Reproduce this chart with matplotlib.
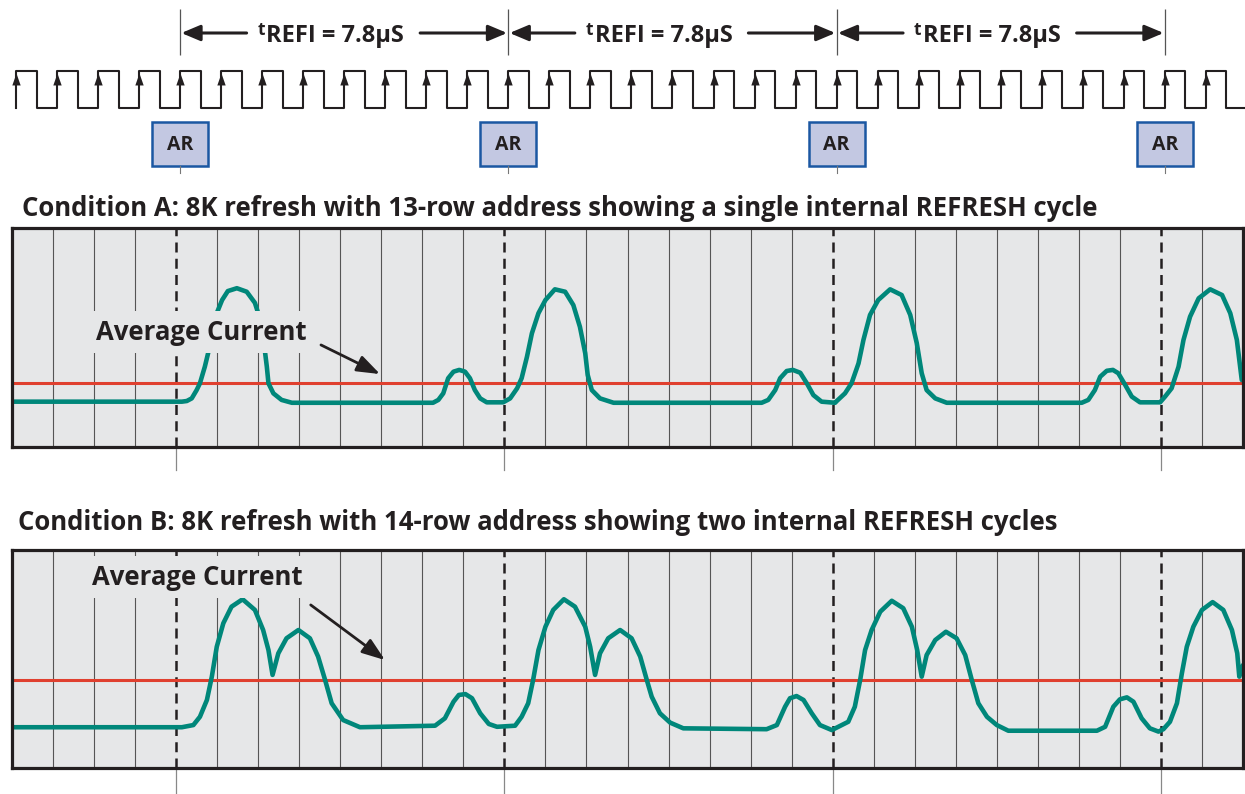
import numpy as np
import matplotlib.pyplot as plt
from matplotlib.patches import Rectangle

plt.rcParams['font.family'] = ['Open Sans', 'DejaVu Sans']
INK = '#231f20'

# clock: one rising edge per cycle, auto refresh every 8 cycles (tREFI)
clock_rising = list(range(30))
refresh_cycles = [4, 12, 20, 28]
trefi_text = 'REFI = 7.8\u03bcS'

title_a = 'Condition A: 8K refresh with 13-row address showing a single internal REFRESH cycle'
title_b = 'Condition B: 8K refresh with 14-row address showing two internal REFRESH cycles'

# supply current traces (time in clock cycles, current in % of panel height)
a_time = [0.00, 4.14, 4.26, 4.38, 4.50, 4.58, 4.70, 4.78, 4.87, 4.99, 5.12, 5.26, 5.48, 5.72, 5.92, 6.00,
          6.09, 6.17, 6.21, 6.25, 6.37, 6.57, 6.82,
          10.26, 10.39, 10.51, 10.63, 10.76, 10.90, 11.04, 11.16, 11.28, 11.41, 11.57, 11.97, 12.14, 12.31,
          12.42, 12.55, 12.67, 12.83, 13.00, 13.23, 13.48, 13.68, 13.84, 13.97, 14.03, 14.13, 14.33, 14.66,
          18.27, 18.43, 18.60, 18.72, 18.88, 19.03, 19.21, 19.37, 19.53, 19.73, 20.06, 20.10, 20.30, 20.46,
          20.63, 20.75, 20.91, 21.11, 21.40, 21.68, 21.89, 22.05, 22.17, 22.29, 22.50, 22.78,
          26.07, 26.23, 26.39, 26.52, 26.68, 26.83, 26.96, 27.13, 27.29, 27.49, 27.98, 28.10, 28.26, 28.43,
          28.55, 28.71, 28.92, 29.20, 29.49, 29.69, 29.85, 29.97]
a_curr = [20.7, 20.7, 21.0, 22.2, 26.0, 29.1, 36.7, 42.9, 52.1, 61.1, 67.1, 71.2, 72.5, 70.9, 65.8, 61.1,
          52.1, 42.8, 36.7, 29.1, 24.5, 21.5, 20.2,
          20.2, 21.5, 24.5, 31.4, 34.4, 35.2, 34.4, 31.4, 26.0, 22.2, 20.4, 20.4, 22.2, 26.8,
          31.4, 41.2, 51.9, 61.1, 67.1, 72.0, 70.9, 64.8, 54.9, 42.8, 32.9, 26.0, 22.2, 20.2,
          20.2, 21.5, 26.0, 31.4, 34.7, 35.2, 33.9, 29.1, 23.7, 20.7, 20.2, 21.0, 24.5, 29.1,
          38.2, 48.9, 60.3, 67.1, 72.0, 69.4, 60.3, 47.4, 33.7, 26.0, 22.2, 20.2,
          20.2, 21.5, 26.0, 32.1, 34.8, 35.2, 33.7, 28.3, 23.0, 20.4, 20.4, 23.0, 26.8, 36.7,
          48.9, 59.5, 67.9, 72.0, 69.4, 61.1, 48.9, 30.6]
a_avg = 29.1

b_time = [0.00, 4.14, 4.42, 4.58, 4.75, 4.87, 4.99, 5.15, 5.35, 5.62, 5.92, 6.12, 6.25, 6.35, 6.49, 6.69,
          6.98, 7.26, 7.46, 7.63, 7.79, 8.07, 8.48,
          10.31, 10.55, 10.76, 10.89, 11.05, 11.21, 11.41, 11.62, 11.82, 12.26, 12.42, 12.58, 12.70, 12.83,
          13.00, 13.19, 13.45, 13.72, 13.97, 14.09, 14.21, 14.33, 14.53, 14.82, 15.10, 15.31, 15.47, 15.59,
          15.79, 16.04, 16.36,
          18.39, 18.64, 18.84, 18.96, 19.12, 19.29, 19.49, 19.69, 19.98, 20.38, 20.54, 20.67, 20.79, 20.95,
          21.16, 21.44, 21.72, 21.93, 22.06, 22.17, 22.29, 22.50, 22.76, 23.02, 23.23, 23.39, 23.55, 23.76,
          24.00, 24.28,
          26.44, 26.64, 26.84, 27.00, 27.17, 27.33, 27.53, 27.73, 27.94, 28.06, 28.22, 28.39, 28.51, 28.63,
          28.79, 29.00, 29.26, 29.52, 29.73, 29.86, 29.91, 30.00]
b_curr = [18.7, 18.7, 19.7, 23.5, 31.2, 41.9, 55.6, 66.4, 74.0, 77.4, 72.5, 63.3, 54.1, 42.7, 52.6, 59.5,
          63.3, 59.5, 51.1, 40.4, 29.7, 22.0, 18.7,
          19.4, 22.8, 30.4, 33.5, 33.9, 32.0, 25.1, 20.2, 18.9, 19.4, 23.5, 29.7, 40.4, 54.1,
          64.8, 72.5, 77.4, 74.0, 64.8, 55.6, 42.7, 52.6, 59.5, 63.3, 59.5, 51.1, 40.4, 32.7,
          25.1, 20.8, 18.2,
          17.8, 19.7, 28.1, 32.0, 33.0, 31.2, 25.1, 19.7, 17.4, 21.2, 28.1, 40.4, 54.1, 63.3,
          71.7, 76.7, 73.3, 64.8, 54.1, 41.9, 51.8, 58.7, 62.5, 59.5, 51.8, 40.4, 29.7, 23.5,
          19.7, 17.1,
          17.1, 18.9, 28.1, 31.5, 32.4, 30.4, 22.8, 18.2, 16.7, 17.8, 21.2, 29.7, 43.4, 55.6,
          64.8, 72.5, 76.1, 72.5, 63.3, 52.6, 41.9, 47.2]
b_avg = 40.4

W, H = 1245, 794
fig = plt.figure(figsize=(W / 100, H / 100), dpi=100)


def rect(x0, y0, x1, y1):
    # pixel box (from top-left) -> figure fraction
    return [x0 / W, 1 - y1 / H, (x1 - x0) / W, (y1 - y0) / H]


xl = (-16 / 41.03, (W - 16) / 41.03)

# overlay for the top timing part: x in cycles, y in pixel rows
ax = fig.add_axes([0, 0, 1, 1])
ax.set_xlim(*xl)
ax.set_ylim(H, 0)
ax.axis('off')

# clock
ck = fig.add_axes(rect(0, 71, W, 108))
ck.set_xlim(*xl)
ck.set_ylim(0, 1)
ck.axis('off')
xs, ys = [], []
for r in clock_rising:
    xs += [r, r, r + 0.5, r + 0.5]
    ys += [0, 1, 1, 0]
xs.append(xl[1])
ys.append(0)
ck.plot(xs, ys, color=INK, lw=1.5, clip_on=False)
head = [(0, 1), (-0.7, -1), (0.7, -1), (0, 1)]
ck.plot(clock_rising, [0.78] * len(clock_rising), ls='none', marker=head, ms=8.6,
        color=INK, mec=INK, mew=0)

# tREFI dimension lines
ax.vlines(refresh_cycles, 9, 55, color='#555555', lw=0.9)
ap = dict(arrowstyle='-|>,head_length=0.95,head_width=0.4', mutation_scale=12,
          lw=2.2, color=INK, shrinkA=0, shrinkB=0)
for a, b in zip(refresh_cycles[:-1], refresh_cycles[1:]):
    ax.annotate('', xy=(a + 0.03, 33), xytext=(a + 1.62, 33), arrowprops=ap)
    ax.annotate('', xy=(b - 0.03, 33), xytext=(a + 5.85, 33), arrowprops=ap)
    ax.text(a + 2.1, 42.5, trefi_text, fontsize=17, fontweight='bold', color=INK,
            ha='left', va='baseline')
    ax.text(a + 2.06, 35, 't', fontsize=12.5, fontweight='bold', color=INK,
            ha='right', va='baseline')

# AR commands
for c in refresh_cycles:
    ax.add_patch(Rectangle((c - 0.68, 121.5), 1.365, 44.5, fc='#c3c8e2', ec='#1b57a2', lw=1.8))
    ax.text(c, 144.5, 'AR', fontsize=14, fontweight='bold', color=INK, ha='center', va='center')
    ax.plot([c, c], [166, 173], color='#777777', lw=0.8)

fig.text(22 / W, 1 - 208 / H, title_a, fontsize=18.5, fontweight='bold', color=INK, va='center')
fig.text(18 / W, 1 - 522 / H, title_b, fontsize=18.5, fontweight='bold', color=INK, va='center')

panels = [
    (rect(12, 228, 1243, 447), a_time, a_curr, a_avg, (4.61, 52.5), (7.53, 46.6), (8.97, 33.3), 10.5),
    (rect(12, 550, 1243, 768), b_time, b_curr, b_avg, (4.52, 87.6), (7.28, 74.8), (9.09, 49.5), 11.5),
]
for box, t, cur, avg, note, a0, a1, tail in panels:
    pa = fig.add_axes(box)
    pa.set_xlim(0, 30)
    pa.set_ylim(0, 100)
    pa.set_facecolor('#e6e7e8')
    pa.set_xticks([])
    pa.set_yticks([])
    for s in pa.spines.values():
        s.set_linewidth(2.3)
        s.set_color(INK)
        s.set_zorder(10)
    for c in range(1, 30):
        if c not in refresh_cycles:
            pa.axvline(c, color='#555555', lw=0.8, zorder=1)
    for c in refresh_cycles:
        pa.axvline(c, color=INK, lw=1.8, ls=(0, (4, 2.5)), zorder=2)
        pa.plot([c, c], [0, -tail], color='#888888', lw=0.9, clip_on=False)
    pa.axhline(avg, color='#e0402f', lw=2.2, zorder=3)
    pa.plot(t, cur, color='#00877a', lw=3.3, zorder=4,
            solid_joinstyle='round', solid_capstyle='round')
    pa.text(note[0], note[1], 'Average Current', fontsize=18.5, fontweight='bold', color=INK,
            ha='center', va='center', zorder=6,
            bbox=dict(boxstyle='square,pad=0.3', fc='#e6e7e8', ec='none'))
    pa.annotate('', xy=a1, xytext=a0, zorder=7,
                arrowprops=dict(arrowstyle='-|>,head_length=1.0,head_width=0.36', mutation_scale=14,
                                lw=2.0, color=INK, shrinkA=0, shrinkB=0))

fig.savefig('out.png', dpi=100)
